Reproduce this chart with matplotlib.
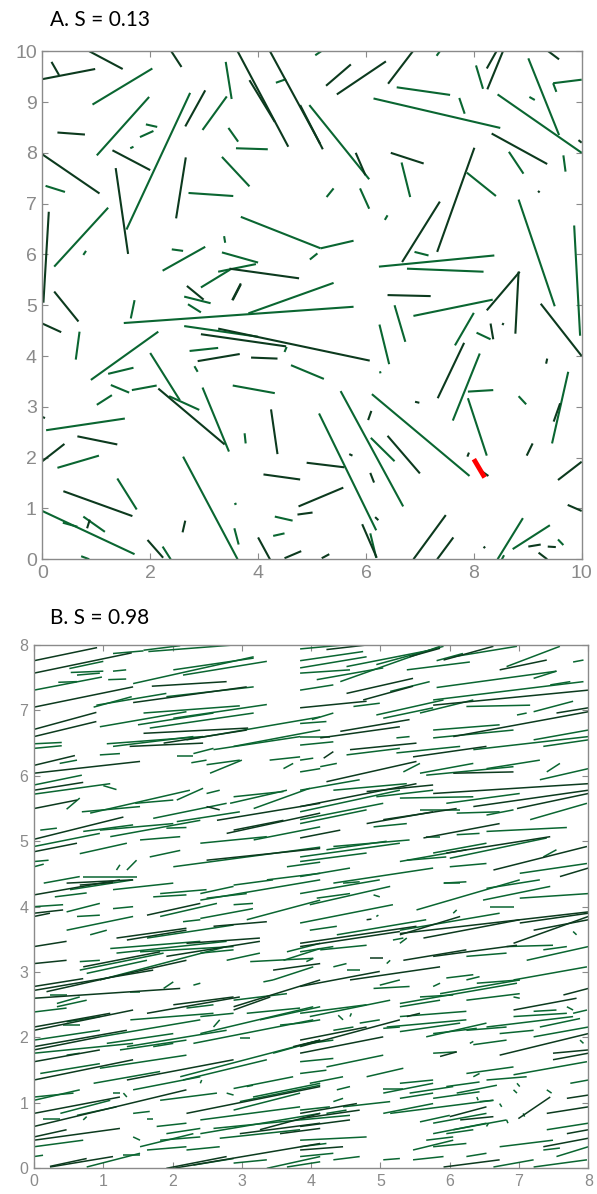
import matplotlib as mpl
mpl.use('Agg')
import matplotlib.pyplot as plt
from matplotlib.collections import LineCollection

GREEN = '#0a6631'
DARK = '#0c3a1e'
GRAY = '#8a8a8a'

title_a = 'A. S = 0.13'
title_b = 'B. S = 0.98'

# panel A segments: x0, y0, x1, y1, colour ('g' green / 'd' dark)
seg_a = [
    (0.17, 9.79, 0.31, 9.53, 'd'), (0.0, 9.45, 0.98, 9.65, 'd'), (0.87, 10.0, 1.49, 9.65, 'd'),
    (0.93, 8.95, 2.04, 9.66, 'g'), (1.01, 7.95, 1.98, 9.10, 'g'), (0.28, 8.40, 0.79, 8.36, 'd'),
    (1.92, 8.56, 2.13, 8.51, 'g'), (1.81, 8.31, 2.06, 8.43, 'g'), (1.63, 8.09, 1.69, 8.12, 'g'),
    (0.0, 7.97, 1.06, 7.20, 'd'), (1.30, 8.05, 2.00, 7.66, 'd'), (0.06, 7.35, 0.42, 7.23, 'g'),
    (1.36, 7.70, 1.59, 6.01, 'd'), (1.56, 6.49, 2.74, 9.18, 'g'), (2.39, 10.0, 2.58, 9.69, 'd'),
    (2.65, 8.52, 3.02, 9.23, 'd'), (2.97, 8.45, 3.42, 9.11, 'g'), (3.40, 9.79, 3.51, 9.06, 'g'),
    (3.45, 8.49, 3.63, 8.22, 'g'), (3.59, 8.09, 4.18, 8.07, 'g'), (3.62, 10.0, 4.56, 8.12, 'd'),
    (3.84, 9.43, 4.31, 8.61, 'd'), (4.22, 10.0, 5.15, 8.18, 'd'), (4.33, 9.38, 4.52, 9.45, 'g'),
    (5.06, 9.92, 5.17, 10.0, 'g'), (2.66, 7.91, 2.48, 6.71, 'd'), (3.33, 7.92, 3.84, 7.34, 'g'),
    (2.71, 7.21, 3.54, 7.15, 'g'), (0.22, 5.76, 1.22, 6.92, 'g'), (0.12, 6.84, 0.02, 5.05, 'd'),
    (0.76, 5.99, 0.81, 6.07, 'g'), (2.40, 6.10, 2.61, 6.07, 'g'), (2.23, 5.68, 3.02, 6.15, 'g'),
    (3.37, 6.36, 3.39, 6.23, 'g'), (3.33, 6.04, 4.0, 5.84, 'g'), (3.26, 5.66, 3.96, 5.81, 'g'),
    (2.94, 5.35, 3.48, 5.70, 'g'), (3.47, 5.72, 4.76, 5.53, 'd'), (3.68, 6.74, 5.16, 6.12, 'g'),
    (4.96, 5.90, 5.10, 6.02, 'g'), (2.68, 5.38, 2.99, 5.11, 'd'), (3.68, 5.43, 3.52, 5.10, 'd'),
    (0.22, 5.27, 0.67, 4.68, 'd'), (0.0, 4.64, 0.35, 4.47, 'd'), (0.69, 4.48, 0.62, 3.93, 'g'),
    (1.71, 5.10, 1.64, 4.74, 'g'), (1.51, 4.65, 5.77, 4.97, 'g'), (3.82, 4.84, 5.40, 5.44, 'g'),
    (2.63, 5.17, 3.12, 5.04, 'g'), (2.70, 5.02, 2.94, 4.86, 'g'), (3.53, 5.10, 3.68, 5.41, 'd'),
    (0.90, 3.53, 2.15, 4.48, 'g'), (1.22, 3.65, 1.69, 3.77, 'g'), (1.27, 3.43, 1.61, 3.28, 'g'),
    (1.66, 3.33, 2.12, 3.42, 'g'), (1.01, 3.04, 1.29, 3.23, 'g'), (2.0, 4.06, 2.55, 3.13, 'g'),
    (2.15, 3.36, 3.38, 2.26, 'd'), (2.35, 3.21, 2.91, 2.94, 'g'), (2.97, 3.38, 3.46, 2.12, 'g'),
    (2.63, 4.59, 4.0, 4.38, 'g'), (2.94, 4.43, 4.52, 4.19, 'd'), (3.26, 4.54, 6.07, 3.91, 'd'),
    (2.73, 4.10, 3.26, 4.16, 'g'), (2.88, 3.90, 3.66, 4.04, 'd'), (3.87, 3.97, 4.36, 3.95, 'd'),
    (4.49, 4.08, 4.53, 4.18, 'g'), (2.82, 3.80, 2.88, 3.69, 'g'), (3.53, 3.42, 4.31, 3.27, 'g'),
    (4.61, 3.82, 5.22, 3.55, 'g'), (4.24, 2.95, 4.36, 2.07, 'd'), (3.75, 2.48, 3.77, 2.28, 'g'),
    (0.0, 2.80, 0.05, 2.78, 'd'), (0.07, 2.54, 1.53, 2.77, 'g'), (0.65, 2.42, 1.39, 2.26, 'd'),
    (0.0, 1.93, 0.41, 2.27, 'd'), (0.28, 1.80, 1.05, 2.04, 'g'), (2.61, 2.02, 3.62, 0.0, 'g'),
    (1.39, 1.59, 1.75, 0.98, 'g'), (0.39, 1.34, 1.67, 0.85, 'd'), (0.0, 0.95, 1.71, 0.10, 'g'),
    (0.38, 0.72, 0.65, 0.64, 'g'), (0.76, 0.84, 1.16, 0.54, 'g'), (0.88, 0.78, 0.83, 0.61, 'd'),
    (0.72, 0.06, 0.87, 0.0, 'g'), (1.95, 0.38, 2.24, 0.03, 'd'), (2.23, 0.25, 2.38, 0.0, 'g'),
    (2.60, 0.53, 2.65, 0.76, 'd'), (3.56, 1.08, 3.60, 1.10, 'g'), (3.56, 0.61, 3.64, 0.29, 'g'),
    (4.0, 0.43, 4.22, 0.0, 'd'), (4.10, 1.67, 4.78, 1.57, 'd'), (4.31, 0.84, 4.64, 0.76, 'g'),
    (4.28, 0.46, 4.49, 0.51, 'g'), (4.75, 1.04, 5.58, 1.41, 'd'), (4.73, 0.88, 5.01, 0.92, 'd'),
    (4.49, 0.02, 4.80, 0.16, 'd'), (4.90, 1.90, 5.60, 1.81, 'd'), (6.40, 5.20, 7.20, 5.18, 'd'),
    (6.88, 4.79, 8.35, 5.11, 'g'), (6.53, 5.0, 6.73, 4.28, 'g'), (6.25, 4.62, 6.43, 3.84, 'g'),
    (6.26, 3.70, 6.27, 3.66, 'g'), (8.24, 4.90, 8.85, 5.66, 'd'), (8.77, 4.44, 8.83, 5.66, 'd'),
    (7.65, 4.21, 8.0, 4.85, 'g'), (8.05, 4.46, 8.31, 4.33, 'g'), (8.31, 4.64, 8.36, 4.33, 'd'),
    (8.53, 4.61, 8.55, 4.65, 'd'), (7.33, 3.17, 7.82, 4.26, 'd'), (7.61, 2.73, 8.11, 4.05, 'g'),
    (7.89, 3.30, 8.36, 3.33, 'g'), (7.89, 3.17, 8.24, 2.04, 'g'), (9.24, 5.03, 10.0, 4.0, 'd'),
    (8.83, 7.08, 9.50, 4.98, 'g'), (9.01, 9.86, 9.58, 8.35, 'g'), (8.44, 9.15, 10.0, 8.0, 'g'),
    (9.47, 9.37, 10.0, 9.44, 'g'), (9.47, 9.37, 9.53, 9.20, 'g'), (9.03, 9.10, 9.13, 9.04, 'g'),
    (9.94, 8.25, 10.0, 8.20, 'd'), (9.66, 7.95, 9.70, 7.63, 'g'), (8.33, 8.38, 9.36, 7.78, 'd'),
    (8.65, 8.02, 8.92, 7.59, 'g'), (8.01, 8.10, 7.32, 6.05, 'd'), (7.87, 7.61, 8.41, 7.15, 'g'),
    (9.19, 7.25, 9.22, 7.22, 'd'), (9.86, 6.57, 9.97, 4.40, 'g'), (7.37, 7.04, 6.67, 5.85, 'd'),
    (6.90, 6.05, 7.16, 5.98, 'g'), (6.24, 5.76, 8.38, 5.98, 'g'), (6.76, 5.72, 8.18, 5.66, 'g'),
    (6.35, 6.68, 6.40, 6.77, 'g'), (5.27, 7.13, 5.40, 7.30, 'g'), (5.89, 7.30, 6.06, 6.90, 'g'),
    (6.46, 8.0, 7.07, 7.79, 'd'), (6.66, 7.81, 6.82, 7.13, 'g'), (5.81, 8.0, 5.99, 7.56, 'd'),
    (4.95, 8.94, 6.06, 7.48, 'g'), (4.78, 8.94, 5.20, 8.07, 'd'), (6.14, 9.07, 8.49, 8.49, 'g'),
    (6.57, 9.29, 7.56, 9.14, 'g'), (7.73, 9.08, 7.83, 8.77, 'g'), (5.46, 9.15, 6.37, 9.80, 'd'),
    (5.26, 9.32, 5.72, 9.74, 'd'), (6.41, 9.36, 6.87, 10.0, 'd'), (7.31, 9.91, 7.37, 10.0, 'g'),
    (8.24, 9.66, 8.42, 10.0, 'd'), (8.25, 9.25, 8.54, 10.0, 'd'), (8.04, 9.72, 8.17, 9.26, 'g'),
    (9.38, 10.0, 9.58, 9.84, 'd'), (5.16, 6.12, 5.77, 6.27, 'g'), (9.45, 2.28, 9.75, 3.69, 'g'),
    (9.48, 2.71, 9.60, 3.07, 'd'), (9.34, 3.85, 9.36, 3.95, 'd'), (8.83, 3.21, 8.97, 3.05, 'g'),
    (8.98, 2.04, 9.09, 2.28, 'd'), (9.56, 1.56, 10.0, 1.92, 'd'), (9.74, 1.07, 10.0, 0.95, 'd'),
    (6.11, 3.25, 7.92, 1.64, 'g'), (5.53, 3.31, 6.69, 1.04, 'g'), (5.13, 2.87, 6.19, 0.57, 'g'),
    (6.09, 2.39, 6.53, 1.93, 'g'), (6.40, 2.43, 7.00, 1.69, 'd'), (6.04, 2.74, 6.10, 2.92, 'd'),
    (5.69, 2.07, 5.75, 2.04, 'd'), (6.91, 3.10, 6.99, 3.08, 'd'), (6.08, 1.70, 6.15, 1.51, 'd'),
    (6.17, 0.83, 6.23, 0.77, 'd'), (5.93, 0.69, 6.20, 0.03, 'd'), (6.08, 0.51, 6.19, 0.03, 'g'),
    (5.18, 0.02, 5.32, 0.10, 'd'), (6.88, 0.0, 7.48, 0.87, 'd'), (7.32, 0.0, 7.62, 0.43, 'd'),
    (7.88, 2.02, 7.91, 2.10, 'd'), (8.44, 0.0, 8.91, 0.81, 'g'), (8.52, 0.0, 8.56, 0.08, 'g'),
    (8.72, 0.20, 9.41, 0.67, 'g'), (9.01, 0.25, 9.24, 0.29, 'd'), (9.37, 0.25, 9.52, 0.24, 'd'),
    (9.56, 0.39, 9.66, 0.28, 'g'), (9.20, 0.13, 9.36, 0.0, 'd'), (8.18, 0.22, 8.21, 0.25, 'd'),
    (8.11, 1.76, 8.27, 1.64, 'd'),
]
# the highlighted (red) rod in panel A
red_a = [(8.0, 1.97, 8.20, 1.61)]

# panel B segments
seg_b = [
    (0, 7.76, 0.91, 7.96, 'd'), (0, 7.57, 1.41, 7.88, 'd'), (1.14, 7.87, 1.58, 7.91, 'g'),
    (1.58, 7.92, 2.11, 7.99, 'g'), (1.65, 7.90, 2.88, 8.0, 'g'), (0.51, 7.64, 1.0, 7.75, 'g'),
    (0.53, 7.58, 1.0, 7.60, 'g'), (0.62, 7.54, 0.95, 7.57, 'g'), (1.14, 7.60, 1.33, 7.62, 'g'),
    (0, 7.31, 0.98, 7.51, 'g'), (0.35, 7.43, 0.62, 7.44, 'g'), (1.07, 7.47, 1.33, 7.48, 'g'),
    (1.43, 7.41, 3.17, 7.82, 'g'), (1.70, 7.37, 2.78, 7.44, 'd'), (2.01, 7.62, 3.17, 7.80, 'g'),
    (2.15, 7.54, 3.36, 7.75, 'g'), (0, 7.05, 1.43, 7.36, 'd'), (0.86, 7.05, 1.41, 7.21, 'g'),
    (0.90, 7.08, 1.91, 7.26, 'g'), (1.43, 7.12, 3.07, 7.36, 'd'), (1.91, 7.21, 3.17, 7.36, 'g'),
    (0, 6.71, 0.90, 6.97, 'd'), (0, 6.60, 0.90, 6.83, 'd'), (0.95, 6.75, 2.20, 6.98, 'g'),
    (1.58, 6.96, 2.97, 7.07, 'g'), (1.50, 6.78, 2.59, 6.96, 'g'), (1.67, 6.73, 3.17, 6.96, 'g'),
    (2.01, 6.88, 3.36, 7.09, 'g'), (0, 6.49, 0.40, 6.51, 'g'), (0, 6.42, 0.40, 6.46, 'g'),
    (1.05, 6.49, 2.44, 6.60, 'g'), (1.14, 6.45, 2.30, 6.60, 'g'), (1.58, 6.65, 3.09, 6.73, 'd'),
    (1.87, 6.50, 3.07, 6.70, 'd'), (2.20, 6.55, 4.13, 6.90, 'g'), (0, 6.16, 0.59, 6.31, 'd'),
    (0, 6.04, 1.53, 6.22, 'd'), (0.37, 6.19, 0.62, 6.24, 'g'), (0.95, 6.32, 1.24, 6.34, 'g'),
    (1.38, 6.45, 2.44, 6.50, 'd'), (2.06, 6.31, 2.30, 6.31, 'g'), (2.30, 6.34, 2.59, 6.42, 'g'),
    (2.27, 6.20, 2.49, 6.24, 'g'), (2.59, 6.40, 3.84, 6.60, 'g'), (2.49, 6.17, 2.97, 6.24, 'g'),
    (2.88, 6.45, 4.13, 6.70, 'g'), (2.54, 6.04, 3.00, 6.24, 'g'), (3.40, 6.24, 3.84, 6.29, 'g'),
    (3.60, 6.11, 3.74, 6.19, 'g'), (0, 5.86, 0.69, 6.01, 'g'), (0, 5.78, 0.71, 5.90, 'd'),
    (0, 5.72, 1.10, 5.88, 'g'), (0.47, 5.49, 0.66, 5.66, 'g'), (1.00, 5.85, 1.19, 5.79, 'g'),
    (0, 5.50, 0.62, 5.63, 'd'), (0.69, 5.45, 1.53, 5.53, 'g'), (0.81, 5.43, 2.25, 5.78, 'g'),
    (1.46, 5.58, 2.01, 5.63, 'g'), (2.06, 5.63, 2.44, 5.81, 'g'), (2.49, 5.73, 2.68, 5.78, 'g'),
    (1.72, 5.35, 2.78, 5.58, 'g'), (2.49, 5.53, 2.68, 5.48, 'd'), (2.88, 5.68, 3.60, 5.76, 'g'),
    (2.83, 5.58, 3.65, 5.78, 'g'), (3.17, 5.50, 3.98, 5.81, 'g'), (0, 5.03, 1.29, 5.37, 'd'),
    (0.09, 5.17, 0.33, 5.20, 'g'), (0, 4.92, 0.95, 5.12, 'g'), (0, 4.84, 0.62, 4.97, 'd'),
    (0.71, 5.15, 1.43, 5.25, 'g'), (0.95, 5.17, 2.01, 5.27, 'g'), (1.10, 5.07, 2.40, 5.32, 'g'),
    (1.53, 5.02, 2.11, 5.07, 'g'), (1.91, 5.20, 2.20, 5.21, 'g'), (2.06, 5.30, 2.97, 5.45, 'g'),
    (2.64, 5.32, 4.13, 5.58, 'd'), (2.78, 5.12, 4.13, 5.43, 'd'), (2.88, 5.17, 3.60, 5.32, 'd'),
    (3.17, 5.02, 4.13, 5.22, 'g'), (2.40, 4.97, 3.36, 5.07, 'g'), (0.66, 4.81, 1.34, 4.97, 'g'),
    (1.67, 4.76, 2.11, 4.86, 'g'), (2.01, 4.61, 4.13, 4.91, 'g'), (2.49, 4.71, 4.13, 4.89, 'd'),
    (0, 4.69, 0.21, 4.71, 'g'), (0, 4.61, 0.14, 4.65, 'g'), (0.71, 4.46, 1.48, 4.46, 'g'),
    (0.14, 4.36, 0.66, 4.46, 'g'), (0.47, 4.36, 1.43, 4.41, 'd'), (1.19, 4.56, 1.24, 4.64, 'g'),
    (1.34, 4.56, 1.48, 4.71, 'g'), (3.65, 4.61, 4.13, 4.68, 'g'), (3.36, 4.41, 4.13, 4.51, 'g'),
    (3.84, 7.94, 4.46, 8.0, 'g'), (4.22, 7.93, 4.80, 8.0, 'd'), (3.84, 7.76, 4.75, 7.90, 'g'),
    (3.84, 7.65, 4.80, 7.82, 'g'), (3.84, 7.57, 4.56, 7.62, 'g'), (4.08, 7.47, 5.04, 7.65, 'g'),
    (4.42, 7.44, 5.86, 7.98, 'g'), (4.51, 7.67, 5.76, 7.93, 'g'), (4.94, 7.70, 5.91, 7.98, 'g'),
    (5.42, 7.82, 5.86, 7.95, 'd'), (5.38, 7.62, 6.29, 7.74, 'g'), (5.81, 7.76, 6.19, 7.87, 'g'),
    (5.91, 7.77, 6.63, 7.98, 'd'), (6.05, 7.82, 6.97, 7.98, 'g'), (6.72, 7.62, 7.40, 7.77, 'd'),
    (6.82, 7.67, 7.59, 7.98, 'g'), (7.21, 7.49, 7.54, 7.60, 'g'), (7.78, 7.74, 7.93, 7.77, 'g'),
    (3.84, 7.31, 4.32, 7.39, 'g'), (4.51, 7.26, 5.47, 7.49, 'd'), (4.75, 7.16, 5.47, 7.37, 'd'),
    (5.14, 7.29, 5.71, 7.44, 'g'), (5.81, 7.35, 7.54, 7.60, 'g'), (5.76, 7.16, 7.93, 7.44, 'g'),
    (7.45, 7.39, 7.74, 7.44, 'g'), (3.84, 7.04, 4.80, 7.14, 'd'), (4.61, 7.06, 4.99, 7.11, 'g'),
    (4.94, 6.93, 5.91, 7.16, 'g'), (5.04, 6.88, 5.76, 7.04, 'g'), (5.57, 6.96, 6.34, 7.16, 'g'),
    (5.76, 7.08, 8.0, 7.31, 'd'), (6.24, 7.06, 7.16, 7.08, 'g'), (6.97, 6.93, 7.11, 6.96, 'g'),
    (7.21, 6.98, 7.78, 7.14, 'g'), (7.54, 6.96, 8.0, 7.04, 'd'), (3.84, 6.80, 4.22, 6.83, 'g'),
    (4.01, 6.86, 4.32, 6.96, 'g'), (3.84, 6.60, 4.27, 6.60, 'g'), (4.13, 6.58, 5.28, 6.75, 'd'),
    (4.42, 6.68, 5.42, 6.86, 'd'), (5.23, 6.58, 5.42, 6.60, 'g'), (5.76, 6.70, 6.72, 6.78, 'g'),
    (5.76, 6.58, 6.92, 6.70, 'g'), (6.05, 6.60, 8.0, 6.98, 'd'), (7.21, 6.55, 8.0, 6.70, 'g'),
    (7.35, 6.45, 8.0, 6.55, 'g'), (3.84, 6.47, 4.32, 6.52, 'g'), (4.56, 6.40, 5.52, 6.50, 'd'),
    (4.51, 6.32, 5.28, 6.42, 'g'), (4.18, 6.27, 4.32, 6.37, 'd'), (5.23, 6.35, 6.15, 6.45, 'g'),
    (5.47, 6.29, 6.53, 6.45, 'd'), (6.34, 6.40, 8.0, 6.60, 'g'), (3.84, 6.24, 4.03, 6.27, 'g'),
    (4.13, 6.14, 4.37, 6.19, 'g'), (4.22, 5.91, 5.52, 6.22, 'd'), (3.84, 6.06, 4.13, 6.11, 'g'),
    (5.33, 6.06, 5.57, 6.19, 'g'), (5.57, 6.04, 6.34, 6.19, 'g'), (5.66, 6.01, 6.92, 6.14, 'g'),
    (6.05, 6.04, 6.92, 6.06, 'd'), (6.53, 6.11, 7.30, 6.24, 'g'), (7.40, 6.06, 7.59, 6.19, 'g'),
    (7.30, 5.94, 8.0, 6.11, 'g'), (3.84, 5.78, 4.70, 5.94, 'g'), (4.32, 5.78, 5.38, 5.88, 'g'),
    (4.80, 5.76, 5.76, 5.86, 'd'), (3.84, 5.53, 5.52, 5.88, 'd'), (3.84, 5.45, 5.28, 5.78, 'g'),
    (4.94, 5.68, 5.76, 5.78, 'g'), (5.28, 5.66, 6.34, 5.68, 'g'), (5.76, 5.73, 8.0, 5.88, 'd'),
    (5.95, 5.58, 7.01, 5.73, 'g'), (6.34, 5.53, 8.0, 5.78, 'd'), (6.97, 5.50, 8.0, 5.73, 'd'),
    (3.84, 5.33, 5.04, 5.58, 'g'), (3.84, 5.27, 4.80, 5.48, 'g'), (4.80, 5.27, 5.76, 5.45, 'd'),
    (5.04, 5.33, 6.10, 5.50, 'd'), (5.57, 5.48, 6.15, 5.48, 'g'), (6.10, 5.43, 6.72, 5.45, 'g'),
    (6.53, 5.40, 6.92, 5.48, 'g'), (7.16, 5.33, 7.98, 5.58, 'g'), (3.84, 5.05, 4.42, 5.17, 'd'),
    (4.90, 5.22, 5.38, 5.27, 'g'), (5.62, 5.05, 6.72, 5.27, 'd'), (5.66, 5.07, 5.86, 5.07, 'g'),
    (6.10, 5.10, 6.43, 5.12, 'g'), (6.53, 5.15, 7.69, 5.21, 'g'), (4.22, 4.87, 5.09, 5.00, 'g'),
    (4.32, 4.92, 5.42, 5.02, 'g'), (3.84, 4.76, 5.28, 4.97, 'g'), (3.84, 4.69, 4.80, 4.82, 'g'),
    (5.28, 4.69, 6.24, 4.87, 'g'), (5.38, 4.71, 5.95, 4.76, 'g'), (5.76, 4.82, 6.53, 4.97, 'g'),
    (5.95, 4.82, 7.45, 5.07, 'd'), (6.00, 4.74, 7.40, 5.05, 'g'), (6.00, 4.61, 6.53, 4.66, 'g'),
    (6.63, 4.56, 7.98, 4.92, 'd'), (7.01, 4.51, 7.98, 4.66, 'g'), (7.35, 4.76, 7.54, 4.87, 'g'),
    (3.84, 4.46, 4.56, 4.59, 'g'), (4.32, 4.36, 5.76, 4.59, 'g'), (6.53, 4.28, 7.30, 4.41, 'g'),
    (7.59, 4.46, 8.0, 4.59, 'd'), (5.91, 4.36, 6.15, 4.36, 'g'),
    (0, 4.18, 1.24, 4.41, 'd'), (0.30, 4.15, 0.76, 4.21, 'g'), (0.52, 4.26, 1.43, 4.41, 'g'),
    (0.66, 4.33, 1.14, 4.37, 'd'), (1.14, 4.26, 2.01, 4.36, 'g'), (1.72, 4.15, 2.20, 4.18, 'g'),
    (1.82, 4.20, 2.49, 4.26, 'g'), (2.40, 4.20, 2.88, 4.31, 'g'), (2.88, 4.33, 3.45, 4.41, 'g'),
    (2.49, 4.13, 3.07, 4.20, 'g'), (0, 4.00, 0.42, 4.03, 'g'), (0, 3.90, 0.42, 3.95, 'd'),
    (0, 3.85, 0.23, 3.90, 'd'), (0.47, 3.92, 0.95, 4.05, 'g'), (0.62, 3.85, 0.95, 3.87, 'g'),
    (1.14, 3.97, 1.43, 4.00, 'g'), (1.63, 3.87, 2.40, 4.05, 'd'), (1.82, 3.85, 2.64, 4.05, 'g'),
    (2.40, 4.10, 4.13, 4.41, 'g'), (2.88, 4.03, 3.16, 4.05, 'g'), (2.15, 3.77, 2.40, 3.80, 'g'),
    (2.40, 3.82, 3.16, 3.97, 'g'), (3.07, 3.80, 4.13, 4.10, 'g'), (2.59, 3.70, 3.36, 3.77, 'd'),
    (0.47, 3.64, 1.43, 3.85, 'g'), (0.81, 3.57, 1.05, 3.64, 'g'), (0, 3.39, 0.47, 3.47, 'd'),
    (1.19, 3.52, 2.20, 3.67, 'd'), (1.34, 3.49, 2.20, 3.64, 'd'), (1.63, 3.52, 2.88, 3.72, 'g'),
    (1.10, 3.36, 2.40, 3.47, 'g'), (1.19, 3.29, 2.78, 3.47, 'g'), (1.53, 3.31, 2.88, 3.39, 'g'),
    (1.91, 3.24, 3.26, 3.47, 'd'), (2.20, 3.44, 3.26, 3.52, 'd'), (2.40, 3.29, 2.88, 3.34, 'g'),
    (2.78, 3.18, 3.26, 3.29, 'g'), (3.12, 3.16, 4.03, 3.21, 'g'), (3.45, 3.03, 4.13, 3.13, 'd'),
    (3.60, 3.18, 4.13, 3.36, 'g'), (3.65, 3.31, 4.13, 3.44, 'g'), (0, 3.13, 0.47, 3.18, 'd'),
    (0.66, 3.16, 0.95, 3.18, 'g'), (0.66, 3.03, 1.87, 3.29, 'g'), (0.71, 3.08, 1.82, 3.31, 'd'),
    (0.76, 2.98, 1.63, 3.18, 'g'), (0.95, 2.88, 2.78, 3.39, 'g'), (0, 2.78, 0.71, 2.90, 'd'),
    (0, 2.72, 1.72, 3.03, 'd'), (0.18, 2.70, 2.20, 3.18, 'd'), (0, 2.60, 2.11, 2.75, 'd'),
    (0.23, 2.65, 0.47, 2.65, 'g'), (0.33, 2.52, 0.66, 2.62, 'g'), (0.33, 2.47, 0.76, 2.57, 'g'),
    (1.39, 2.70, 1.53, 2.70, 'g'), (1.87, 2.75, 2.01, 2.85, 'g'), (2.30, 2.80, 2.40, 2.83, 'g'),
    (2.88, 2.47, 4.13, 2.88, 'd'), (2.88, 2.57, 3.65, 2.67, 'g'), (3.31, 2.85, 3.45, 2.88, 'g'),
    (3.45, 2.88, 4.03, 3.08, 'g'), (0, 2.39, 0.47, 2.45, 'g'), (0, 2.16, 1.10, 2.37, 'd'),
    (0, 2.11, 1.43, 2.42, 'd'), (0.42, 2.19, 0.66, 2.19, 'g'), (0.47, 2.24, 0.95, 2.32, 'g'),
    (1.39, 2.27, 2.59, 2.37, 'g'), (1.63, 2.37, 2.97, 2.62, 'd'), (2.01, 2.50, 2.88, 2.62, 'd'),
    (2.20, 2.45, 2.59, 2.50, 'g'), (2.40, 2.32, 2.88, 2.37, 'g'), (2.59, 2.16, 2.68, 2.27, 'g'),
    (2.88, 2.42, 3.41, 2.62, 'd'), (3.07, 2.37, 3.84, 2.45, 'g'), (3.26, 2.27, 4.13, 2.47, 'g'),
    (3.55, 2.19, 3.84, 2.22, 'g'), (0, 1.96, 0.95, 2.11, 'g'), (0, 1.86, 1.34, 2.11, 'd'),
    (0, 1.81, 0.95, 2.01, 'd'), (0, 1.76, 1.43, 1.91, 'g'), (0.95, 2.01, 2.40, 2.27, 'g'),
    (1.05, 1.91, 2.01, 2.06, 'g'), (1.24, 1.81, 2.20, 1.96, 'g'), (1.34, 1.86, 2.78, 2.11, 'g'),
    (1.72, 1.86, 2.01, 1.91, 'g'), (2.40, 2.06, 4.03, 2.47, 'g'), (2.30, 1.91, 4.03, 2.27, 'g'),
    (2.97, 1.99, 3.12, 1.99, 'g'), (3.45, 1.76, 4.13, 1.96, 'g'), (3.74, 1.86, 4.13, 1.96, 'd'),
    (0, 1.63, 0.95, 1.81, 'd'), (0, 1.35, 1.43, 1.66, 'd'), (0.47, 1.73, 0.66, 1.76, 'g'),
    (0.09, 1.45, 0.95, 1.60, 'g'), (0.95, 1.53, 2.20, 1.73, 'g'), (0.86, 1.30, 1.82, 1.48, 'g'),
    (1.34, 1.35, 2.88, 1.66, 'd'), (1.43, 1.20, 2.40, 1.40, 'g'), (2.11, 1.40, 4.13, 1.96, 'g'),
    (2.15, 1.35, 3.36, 1.66, 'g'), (2.40, 1.30, 2.42, 1.35, 'g'), (2.88, 1.22, 3.74, 1.40, 'g'),
    (3.07, 1.25, 3.16, 1.27, 'g'), (0, 1.04, 0.66, 1.20, 'g'), (0, 1.09, 0.57, 1.15, 'g'),
    (0, 0.84, 1.24, 1.09, 'd'), (0, 0.64, 2.20, 1.20, 'd'), (0.13, 0.76, 0.38, 0.76, 'g'),
    (0.38, 0.84, 1.10, 1.04, 'g'), (0.62, 0.81, 1.19, 0.94, 'g'), (0.71, 0.74, 0.76, 0.79, 'g'),
    (1.14, 1.15, 1.24, 1.15, 'g'), (1.29, 1.15, 1.34, 1.09, 'g'), (1.43, 0.84, 1.67, 0.87, 'g'),
    (1.63, 0.76, 1.72, 0.76, 'g'), (1.77, 0.64, 2.20, 0.69, 'g'), (1.82, 1.04, 2.64, 1.15, 'g'),
    (2.20, 0.84, 4.13, 1.25, 'd'), (2.40, 0.74, 3.84, 0.94, 'g'), (2.88, 0.89, 3.84, 1.15, 'g'),
    (2.78, 1.15, 2.88, 1.12, 'g'), (2.97, 1.02, 4.13, 1.27, 'g'), (3.16, 1.09, 4.13, 1.30, 'g'),
    (0, 0.48, 0.47, 0.59, 'd'), (0, 0.43, 1.24, 0.61, 'd'), (0, 0.33, 0.71, 0.43, 'g'),
    (0, 0.18, 0.13, 0.20, 'g'), (0.23, 0.02, 1.14, 0.18, 'd'), (0.23, 0.03, 0.76, 0.15, 'd'),
    (0.76, 0.02, 1.53, 0.23, 'g'), (1.29, 0.20, 1.53, 0.20, 'g'), (1.43, 0.48, 1.53, 0.43, 'g'),
    (1.53, 0.33, 2.30, 0.53, 'g'), (1.63, 0.28, 2.20, 0.33, 'g'), (1.82, 0.43, 2.40, 0.48, 'g'),
    (1.91, 0.53, 2.40, 0.61, 'g'), (2.20, 0.28, 2.68, 0.33, 'g'), (2.40, 0.53, 4.13, 0.84, 'g'),
    (2.59, 0.61, 3.84, 0.74, 'g'), (2.68, 0.46, 3.84, 0.59, 'g'), (2.97, 0.53, 4.13, 0.69, 'd'),
    (3.26, 0.59, 4.13, 0.84, 'd'), (3.55, 0.53, 4.13, 0.61, 'd'), (1.91, 0, 2.78, 0.18, 'd'),
    (2.01, 0, 4.13, 0.38, 'd'), (2.30, 0.05, 2.88, 0.15, 'g'), (2.88, 0.08, 3.36, 0.13, 'g'),
    (3.36, 0, 4.13, 0.18, 'g'), (3.65, 0.02, 4.13, 0.10, 'g'),
    (3.84, 4.20, 4.99, 4.41, 'g'), (3.98, 4.03, 5.14, 4.31, 'g'), (4.08, 4.13, 4.56, 4.20, 'g'),
    (4.46, 4.36, 4.70, 4.38, 'g'), (4.90, 4.18, 4.99, 4.15, 'g'), (5.52, 3.95, 7.01, 4.41, 'g'),
    (5.91, 4.36, 6.24, 4.38, 'g'), (6.48, 4.10, 7.45, 4.31, 'g'), (6.58, 4.00, 6.92, 4.00, 'g'),
    (7.01, 4.13, 8.0, 4.20, 'g'), (3.84, 3.75, 5.18, 4.03, 'g'), (3.98, 3.64, 4.37, 3.70, 'g'),
    (4.37, 3.57, 5.66, 3.80, 'g'), (4.80, 3.80, 4.87, 3.81, 'd'), (4.94, 3.85, 4.97, 3.87, 'g'),
    (5.28, 3.64, 6.72, 3.90, 'g'), (6.05, 3.90, 6.10, 3.95, 'g'), (3.84, 3.44, 5.52, 3.70, 'd'),
    (3.84, 3.39, 5.28, 3.62, 'd'), (5.28, 3.57, 6.15, 3.85, 'd'), (5.28, 3.59, 8.0, 3.92, 'd'),
    (5.62, 3.52, 7.01, 3.80, 'd'), (6.92, 3.44, 8.0, 3.85, 'd'), (7.01, 3.75, 8.0, 3.90, 'd'),
    (7.21, 3.64, 8.0, 3.80, 'd'), (7.78, 3.62, 7.83, 3.57, 'g'), (3.84, 3.31, 4.32, 3.39, 'g'),
    (4.13, 3.34, 4.80, 3.41, 'g'), (5.18, 3.49, 5.33, 3.52, 'g'), (5.28, 3.44, 5.38, 3.52, 'g'),
    (3.93, 3.16, 4.03, 3.21, 'g'), (4.85, 3.21, 5.04, 3.21, 'd'), (5.09, 3.13, 5.14, 3.18, 'g'),
    (5.33, 3.18, 6.24, 3.34, 'd'), (5.76, 3.24, 6.97, 3.41, 'd'), (6.24, 3.24, 6.82, 3.29, 'g'),
    (6.82, 3.39, 7.49, 3.41, 'g'), (7.35, 3.34, 7.69, 3.39, 'g'), (7.11, 3.18, 8.0, 3.39, 'g'),
    (4.32, 3.08, 4.51, 3.13, 'g'), (4.51, 3.03, 4.70, 3.03, 'g'), (3.84, 2.78, 4.99, 3.01, 'd'),
    (4.56, 2.88, 5.86, 3.08, 'd'), (4.90, 2.75, 5.42, 2.78, 'g'), (4.99, 2.80, 5.28, 2.88, 'g'),
    (5.76, 2.78, 5.86, 2.83, 'g'), (5.95, 2.91, 6.34, 2.96, 'g'), (6.24, 2.88, 6.43, 2.93, 'g'),
    (6.39, 2.83, 7.01, 2.88, 'g'), (6.92, 2.88, 7.98, 3.08, 'g'), (3.84, 2.37, 4.80, 2.50, 'g'),
    (3.98, 2.32, 5.14, 2.57, 'g'), (5.28, 2.47, 5.86, 2.57, 'g'), (5.28, 2.52, 6.97, 2.83, 'g'),
    (5.57, 2.62, 6.05, 2.65, 'g'), (5.28, 2.32, 6.24, 2.40, 'g'), (5.38, 2.32, 5.57, 2.37, 'd'),
    (5.86, 2.67, 7.01, 2.88, 'g'), (6.24, 2.57, 7.01, 2.67, 'g'), (6.92, 2.62, 7.01, 2.60, 'g'),
    (6.92, 2.42, 7.83, 2.60, 'd'), (7.21, 2.40, 7.54, 2.42, 'g'), (7.64, 2.65, 8.0, 2.75, 'd'),
    (7.69, 2.47, 7.78, 2.42, 'g'), (7.78, 2.37, 7.98, 2.42, 'g'), (4.39, 2.34, 4.46, 2.27, 'g'),
    (4.56, 2.32, 4.58, 2.37, 'g'), (3.84, 2.22, 4.13, 2.27, 'g'), (3.84, 1.96, 4.80, 2.16, 'd'),
    (3.84, 1.86, 5.28, 2.27, 'd'), (3.84, 1.76, 5.04, 2.01, 'd'), (3.98, 1.91, 4.32, 1.96, 'g'),
    (4.32, 2.11, 4.61, 2.16, 'g'), (4.70, 2.22, 4.99, 2.27, 'g'), (5.04, 2.14, 5.28, 2.16, 'g'),
    (5.09, 2.16, 6.24, 2.27, 'g'), (5.28, 2.09, 6.15, 2.22, 'g'), (5.66, 2.01, 6.53, 2.22, 'g'),
    (5.76, 2.06, 6.39, 2.14, 'g'), (5.76, 1.76, 6.10, 1.78, 'g'), (5.86, 1.71, 6.10, 1.78, 'd'),
    (6.24, 2.11, 6.82, 2.16, 'g'), (6.29, 1.91, 6.34, 1.94, 'g'), (6.34, 1.89, 6.82, 1.96, 'g'),
    (6.72, 2.06, 7.21, 2.11, 'g'), (6.53, 2.16, 7.78, 2.32, 'g'), (6.92, 2.32, 7.69, 2.37, 'g'),
    (7.30, 2.16, 7.88, 2.29, 'g'), (7.21, 2.01, 8.0, 2.16, 'g'), (7.88, 1.96, 7.93, 1.91, 'g'),
    (4.22, 1.55, 5.04, 1.73, 'g'), (3.84, 1.63, 4.32, 1.68, 'g'), (3.84, 1.45, 4.22, 1.50, 'g'),
    (4.80, 1.40, 5.33, 1.53, 'g'), (3.98, 1.30, 4.46, 1.40, 'g'), (4.37, 1.20, 4.56, 1.25, 'g'),
    (5.04, 1.22, 5.33, 1.22, 'g'), (5.04, 1.15, 5.76, 1.30, 'g'), (5.28, 1.30, 5.76, 1.35, 'g'),
    (5.42, 1.15, 6.05, 1.25, 'g'), (5.28, 1.07, 5.76, 1.15, 'g'), (5.76, 1.07, 6.43, 1.17, 'g'),
    (5.95, 1.25, 6.43, 1.32, 'g'), (6.10, 1.15, 6.68, 1.27, 'g'), (6.24, 1.45, 6.92, 1.55, 'g'),
    (6.34, 1.40, 6.43, 1.45, 'g'), (6.53, 1.35, 7.11, 1.40, 'g'), (6.92, 1.43, 7.98, 1.63, 'g'),
    (6.97, 1.30, 7.01, 1.25, 'g'), (6.92, 1.20, 6.97, 1.15, 'g'), (7.49, 1.76, 8.0, 1.81, 'd'),
    (7.49, 1.66, 8.0, 1.76, 'd'), (6.72, 1.73, 8.0, 2.06, 'd'), (7.40, 1.20, 7.47, 1.15, 'g'),
    (7.69, 1.07, 8.0, 1.12, 'd'), (7.74, 1.30, 8.0, 1.35, 'g'), (3.84, 0.84, 4.66, 0.99, 'd'),
    (3.84, 0.76, 4.70, 0.89, 'd'), (3.84, 0.74, 4.56, 0.81, 'g'), (3.84, 0.64, 4.56, 0.74, 'd'),
    (3.84, 0.89, 4.27, 0.94, 'g'), (4.32, 1.02, 4.46, 1.07, 'g'), (4.22, 0.84, 4.51, 0.89, 'g'),
    (4.46, 0.94, 5.14, 1.02, 'g'), (5.04, 0.84, 5.76, 0.99, 'g'), (5.14, 0.84, 6.63, 1.04, 'g'),
    (5.57, 0.71, 6.00, 0.81, 'g'), (5.76, 0.69, 6.53, 0.84, 'g'), (6.00, 0.79, 6.53, 0.94, 'd'),
    (5.76, 0.53, 6.53, 0.69, 'g'), (6.05, 0.59, 6.82, 0.74, 'g'), (6.15, 0.74, 6.63, 0.79, 'd'),
    (6.43, 1.02, 6.63, 1.04, 'g'), (6.39, 1.09, 6.41, 1.04, 'g'), (6.53, 0.64, 6.56, 0.69, 'g'),
    (6.72, 0.99, 6.75, 0.94, 'g'), (6.82, 0.74, 6.84, 0.69, 'g'), (6.99, 0.76, 7.45, 1.09, 'd'),
    (7.06, 0.84, 7.08, 0.79, 'g'), (7.40, 0.84, 8.0, 0.94, 'd'), (7.40, 0.59, 8.0, 0.69, 'g'),
    (7.69, 0.53, 8.0, 0.59, 'd'), (7.35, 0.33, 8.0, 0.46, 'd'), (7.35, 0.28, 7.59, 0.31, 'g'),
    (7.54, 0.18, 8.0, 0.33, 'g'), (3.84, 0.43, 4.80, 0.48, 'g'), (3.84, 0.33, 4.22, 0.38, 'g'),
    (3.84, 0.28, 4.46, 0.33, 'd'), (3.84, 0.18, 4.32, 0.23, 'g'), (4.32, 0.13, 4.70, 0.18, 'g'),
    (5.04, 0.13, 5.28, 0.15, 'g'), (5.47, 0.13, 5.91, 0.18, 'g'), (5.47, 0.28, 6.05, 0.43, 'g'),
    (5.66, 0.43, 6.05, 0.48, 'g'), (5.76, 0.33, 6.24, 0.38, 'g'), (5.95, 0.53, 6.34, 0.59, 'g'),
    (5.91, 0.02, 6.72, 0.13, 'd'), (6.24, 0.18, 6.53, 0.23, 'g'), (6.63, 0.02, 7.21, 0.13, 'g'),
    (7.21, 0.02, 7.98, 0.13, 'g'), (6.72, 0.33, 7.49, 0.43, 'g'),
]


def draw_panel(ax, segs, lw):
    for code, col in (('g', GREEN), ('d', DARK)):
        lines = [[(s[0], s[1]), (s[2], s[3])] for s in segs if s[4] == code]
        ax.add_collection(LineCollection(lines, colors=col, linewidths=lw,
                                         capstyle='butt'))


def style_axes(ax, lim, step, fsize):
    ax.set_xlim(0, lim)
    ax.set_ylim(0, lim)
    ax.set_xticks(range(0, lim + 1, step))
    ax.set_yticks(range(0, lim + 1, 1))
    ax.tick_params(direction='in', length=4, width=0.8, color=GRAY,
                   labelcolor=GRAY, labelsize=fsize, top=True, right=True, pad=4)
    for lab in ax.get_xticklabels() + ax.get_yticklabels():
        lab.set_family('Liberation Sans')
    for sp in ax.spines.values():
        sp.set_color(GRAY)
        sp.set_linewidth(1.0)


fig = plt.figure(figsize=(5.97, 11.94), dpi=100)

ax_a = fig.add_axes([0.0709, 0.5316, 0.9035, 0.4255])
draw_panel(ax_a, seg_a, 1.5)
ax_a.add_collection(LineCollection([[(r[0], r[1]), (r[2], r[3])] for r in red_a],
                                   colors='red', linewidths=3.5))
style_axes(ax_a, 10, 2, 14)

ax_b = fig.add_axes([0.057, 0.0215, 0.9285, 0.4383])
draw_panel(ax_b, seg_b, 1.1)
style_axes(ax_b, 8, 1, 11.5)

fig.text(0.084, 0.983, title_a, fontsize=15, family='Lato', va='center', ha='left')
fig.text(0.084, 0.482, title_b, fontsize=15, family='Lato', va='center', ha='left')

fig.savefig('out.png', dpi=100)
